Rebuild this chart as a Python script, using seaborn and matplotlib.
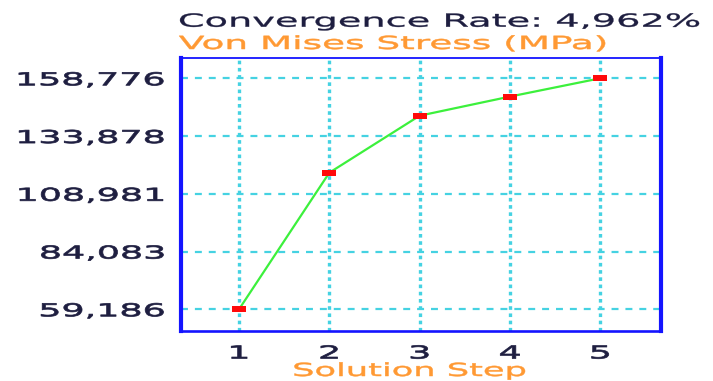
import matplotlib
matplotlib.use("Agg")
import matplotlib.pyplot as plt
from matplotlib.patheffects import AbstractPathEffect
from matplotlib.transforms import Affine2D
import seaborn as sns
import pandas as pd

# Solver convergence history
steps = [1, 2, 3, 4, 5]
stress_mpa = [59.186, 118.08, 142.65, 150.897, 158.776]
convergence_rate = "4,962%"

ytick_values = [59.186, 84.083, 108.981, 133.878, 158.776]
ytick_labels = ["59,186", "84,083", "108,981", "133,878", "158,776"]
xtick_labels = ["1", "2", "3", "4", "5"]

title_text = f"Convergence Rate: {convergence_rate}"
quantity_text = "Von Mises Stress (MPa)"
xlabel_text = "Solution Step"

NAVY = "#1e1e40"
ORANGE = "#ff9933"
BLUE = "#1414ff"
CYAN = "#45d2e2"
LIME = "#3cf03c"
RED = "#ff0a0a"


class WideText(AbstractPathEffect):
    """Draws glyphs widened horizontally about a chosen anchor, with a light outline."""

    def __init__(self, sx=2.0, anchor="left", stroke=0.6):
        super().__init__()
        self.sx = sx
        self.anchor = anchor
        self.stroke = stroke

    def draw_path(self, renderer, gc, tpath, affine, rgbFace=None):
        ext = tpath.get_extents(affine)
        if self.anchor == "left":
            x0 = ext.x0
        elif self.anchor == "right":
            x0 = ext.x1
        else:
            x0 = 0.5 * (ext.x0 + ext.x1)
        widen = Affine2D().translate(-x0, 0).scale(self.sx, 1.0).translate(x0, 0)
        gc0 = renderer.new_gc()
        gc0.copy_properties(gc)
        gc0.set_linewidth(self.stroke)
        if rgbFace is not None:
            gc0.set_foreground(rgbFace)
        gc0.set_joinstyle("round")
        renderer.draw_path(gc0, tpath, affine + widen, rgbFace)
        gc0.restore()


sns.set_style("white")
plt.rcParams["font.family"] = ["DejaVu Sans"]
plt.rcParams["lines.scale_dashes"] = False

W, H = 713, 381
fig = plt.figure(figsize=(W / 100, H / 100), dpi=100)
ax = fig.add_axes([180.5 / W, 1 - 331.3 / H, (661 - 180.5) / W, (331.3 - 57.7) / H])

df = pd.DataFrame({"step": steps, "stress": stress_mpa})
rect = [(-1, -0.5), (1, -0.5), (1, 0.5), (-1, 0.5), (-1, -0.5)]
sns.lineplot(
    data=df, x="step", y="stress", ax=ax,
    color=LIME, linewidth=1.6,
    marker=rect, markersize=9.8,
    markerfacecolor=RED, markeredgecolor=RED, markeredgewidth=0,
    zorder=3,
)

ax.set_xlim(0.352, 5.673)
ax.set_ylim(49.70, 167.66)
ax.set_xticks(steps, xtick_labels)
ax.set_yticks(ytick_values, ytick_labels)
ax.set_xlabel("")
ax.set_ylabel("")

ax.set_axisbelow(True)
ax.yaxis.grid(True, color=CYAN, linewidth=1.6, linestyle=(0, (5, 5)))
ax.xaxis.grid(True, color=CYAN, linewidth=2.4, linestyle=(0, (2.6, 2.6)))

for side, lw in [("left", 3.0), ("right", 3.0), ("top", 1.3), ("bottom", 1.9)]:
    ax.spines[side].set_visible(True)
    ax.spines[side].set_color(BLUE)
    ax.spines[side].set_linewidth(lw)

ax.tick_params(axis="y", length=0, pad=11.5, labelsize=12.8, labelcolor=NAVY)
ax.tick_params(axis="x", length=0, pad=9.5, labelsize=12.8, labelcolor=NAVY)

for lab in ax.get_yticklabels():
    lab.set_path_effects([WideText(2.05, "right", 0.5)])
for lab in ax.get_xticklabels():
    lab.set_path_effects([WideText(2.05, "center", 0.5)])

t1 = fig.text(179 / W, 1 - 26.7 / H, title_text, ha="left", va="baseline",
              fontsize=13, color=NAVY)
t1.set_path_effects([WideText(2.12, "left", 0.25)])
t2 = fig.text(179 / W, 1 - 49 / H, quantity_text, ha="left", va="baseline",
              fontsize=13, color=ORANGE)
t2.set_path_effects([WideText(2.07, "left", 0.35)])
t3 = fig.text(409.5 / W, 1 - 376 / H, xlabel_text, ha="center", va="baseline",
              fontsize=13, color=ORANGE)
t3.set_path_effects([WideText(1.95, "center", 0.35)])

fig.savefig("out.png", dpi=100)
